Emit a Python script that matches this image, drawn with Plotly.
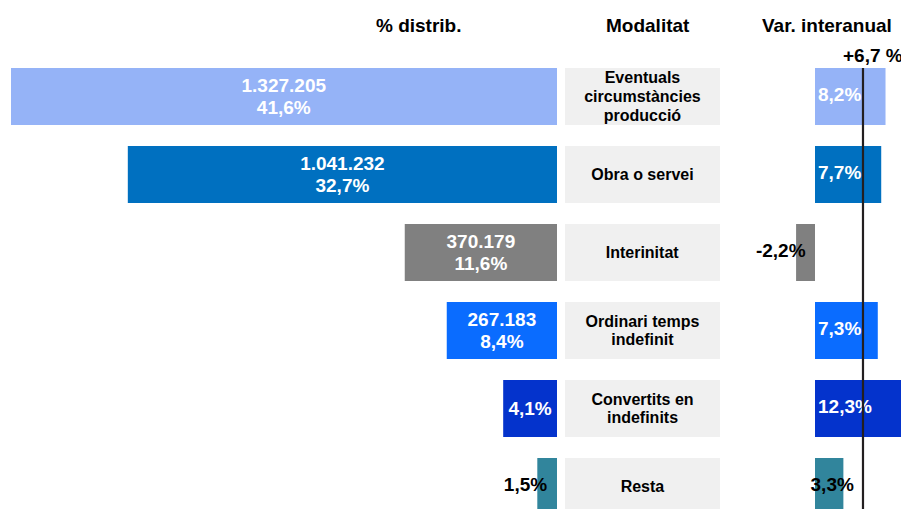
import plotly.graph_objects as go

# ---------------- data ----------------
categories = ["Eventuals<br>circumstàncies<br>producció", "Obra o servei", "Interinitat",
              "Ordinari temps<br>indefinit", "Convertits en<br>indefinits", "Resta"]
contracts = [1327205, 1041232, 370179, 267183, None, None]
share_pct = [41.6, 32.7, 11.6, 8.4, 4.1, 1.5]
yoy_pct = [8.2, 7.7, -2.2, 7.3, 12.3, 3.3]
avg_yoy = 6.7
bar_colors = ["#95B3F7", "#0070C0", "#808080", "#0A6CFF", "#0433CC", "#31859C"]
titles = ["% distrib.", "Modalitat", "Var. interanual"]

FONT = "Liberation Sans, Arial, sans-serif"
# the page body has an 8px margin, so the figure is drawn 8px in from the window edge
OFF = 8
W, H = 909, 501
BAR_W = 0.731
ROW_PX = 78.0
ROW0_PX = 96.5 - OFF
Y_RANGE = [(H - ROW0_PX) / ROW_PX, -ROW0_PX / ROW_PX]

VAL_PX = 19      # glyph size for value labels
VAL_BASE = 17    # base size (controls line spacing)
CAT_PX = 16
CAT_BASE = 14.6


def fmt_int(v):
    return f"{v:,}".replace(",", ".")


def fmt_pct(v, sign=False):
    s = f"{v:+.1f}" if sign else f"{v:.1f}"
    return s.replace(".", ",") + "%"


def styled(lines, px):
    return "<br>".join(f"<span style='font-size:{px}px;font-weight:bold'>{t}</span>" for t in lines)


rows = list(range(len(categories)))
PX_L = 13.125   # px per % (left)
PX_R = 8.6      # px per % (right)
PAD_R = 3 / PX_R

# left labels
left_fits = [s > 3 for s in share_pct]
left_text = []
for c, s, fit in zip(contracts, share_pct, left_fits):
    if not fit:
        left_text.append("")
    elif c is None:
        left_text.append(styled([fmt_pct(s)], VAL_PX))
    else:
        left_text.append(styled([fmt_int(c), fmt_pct(s)], VAL_PX))

small_left = [(i, s) for i, s in enumerate(share_pct) if s <= 3]

# right labels
right_x, right_pos, right_col = [], [], []
for v in yoy_pct:
    if v > 5:
        right_x.append(PAD_R); right_pos.append("middle right"); right_col.append("white")
    elif v < 0:
        right_x.append(v / 2); right_pos.append("middle left"); right_col.append("black")
    else:
        right_x.append(v / 2 + PAD_R); right_pos.append("middle center"); right_col.append("black")

fig = go.Figure()

# left panel: distribution
fig.add_trace(go.Bar(
    x=share_pct, y=rows, orientation="h", width=BAR_W,
    marker=dict(color=bar_colors, line=dict(width=0)),
    text=left_text, textposition="inside", insidetextanchor="middle",
    textangle=0, constraintext="none",
    textfont=dict(family=FONT, size=VAL_BASE, color="white"),
    xaxis="x", yaxis="y", hoverinfo="skip",
))
fig.add_trace(go.Scatter(
    x=[s / 2 for _, s in small_left], y=[i for i, _ in small_left], mode="text",
    text=[styled([fmt_pct(s)], VAL_PX) for _, s in small_left],
    textposition="middle left",
    textfont=dict(family=FONT, size=VAL_BASE, color="black"),
    xaxis="x", yaxis="y", hoverinfo="skip", cliponaxis=False,
))

# middle panel: category boxes
fig.add_trace(go.Bar(
    x=[1] * len(categories), y=rows, orientation="h", width=BAR_W,
    marker=dict(color="#F0F0F0", line=dict(width=0)),
    text=[styled(c.split("<br>"), CAT_PX) for c in categories], textposition="inside",
    insidetextanchor="middle", textangle=0, constraintext="none",
    textfont=dict(family=FONT, size=CAT_BASE, color="black"),
    xaxis="x2", yaxis="y", hoverinfo="skip",
))

# right panel: year-on-year variation
fig.add_trace(go.Bar(
    x=yoy_pct, y=rows, orientation="h", width=BAR_W,
    marker=dict(color=bar_colors, line=dict(width=0)),
    xaxis="x3", yaxis="y", hoverinfo="skip",
))

# average reference line
fig.add_trace(go.Scatter(
    x=[avg_yoy, avg_yoy], y=[-BAR_W / 2, Y_RANGE[0]], mode="lines",
    line=dict(color="#231F20", width=2.2),
    xaxis="x4", yaxis="y", hoverinfo="skip",
))

fig.add_trace(go.Scatter(
    x=right_x, y=rows, mode="text",
    text=[styled([fmt_pct(v)], VAL_PX) for v in yoy_pct],
    textposition=right_pos,
    textfont=dict(family=FONT, size=VAL_BASE, color=right_col),
    xaxis="x3", yaxis="y", hoverinfo="skip", cliponaxis=False,
))

ax = dict(visible=False, fixedrange=True, showgrid=False, zeroline=False)
L_ZERO = 557 - OFF
R_LEFT, R_ZERO = 740 - OFF, 815 - OFF
r_range = [(R_LEFT - R_ZERO) / PX_R, (W - R_ZERO) / PX_R]
AVG_SHIFT = 1.12

title_font = dict(family=FONT, size=19, color="black")
fig.update_layout(
    width=W, height=H, margin=dict(l=0, r=0, t=0, b=0),
    paper_bgcolor="white", plot_bgcolor="white",
    showlegend=False, barmode="overlay",
    xaxis=dict(ax, domain=[0, L_ZERO / W], range=[L_ZERO / PX_L, 0], anchor="y"),
    xaxis2=dict(ax, domain=[(565 - OFF) / W, (720 - OFF) / W], range=[0, 1], anchor="y"),
    xaxis3=dict(ax, domain=[R_LEFT / W, 1], range=r_range, anchor="y"),
    xaxis4=dict(ax, overlaying="x3", range=[r_range[0] + AVG_SHIFT, r_range[1] + AVG_SHIFT],
                anchor="y"),
    yaxis=dict(ax, domain=[0, 1], range=Y_RANGE, anchor="x"),
    annotations=[
        dict(text=f"<b>{titles[0]}</b>", x=(418.5 - OFF) / W, y=1 - (26 - OFF) / H,
             xref="paper", yref="paper", showarrow=False, xanchor="center",
             yanchor="middle", font=title_font),
        dict(text=f"<b>{titles[1]}</b>", x=(647.5 - OFF) / W, y=1 - (26 - OFF) / H,
             xref="paper", yref="paper", showarrow=False, xanchor="center",
             yanchor="middle", font=title_font),
        dict(text=f"<b>{titles[2]}</b>", x=(826.5 - OFF) / W, y=1 - (26 - OFF) / H,
             xref="paper", yref="paper", showarrow=False, xanchor="center",
             yanchor="middle", font=title_font),
        dict(text="<b>" + fmt_pct(avg_yoy, sign=True).replace("%", " %") + "</b>",
             x=avg_yoy, xref="x3", y=1 - (56 - OFF) / H, yref="paper",
             showarrow=False, xanchor="center", yanchor="middle", font=title_font),
    ],
)

fig.write_html("out.html")
